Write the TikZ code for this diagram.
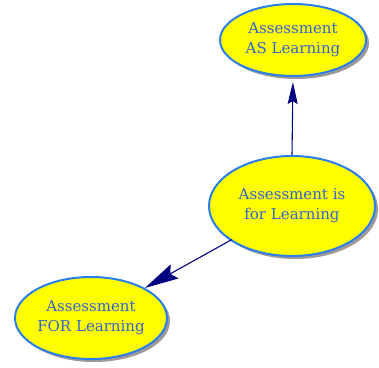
\documentclass[tikz,border=0pt]{standalone}
\usepackage{fontspec}
\setmainfont{DejaVu Serif}
\usetikzlibrary{shapes.geometric,arrows.meta,shadows}
\definecolor{nodeyellow}{HTML}{FFFF00}
\definecolor{nodeblue}{HTML}{2A7FEA}
\definecolor{textblue}{HTML}{3366CC}
\definecolor{navy}{HTML}{000080}
\definecolor{shadowgray}{HTML}{A09898}
\tikzset{
  concept/.style={ellipse, draw=nodeblue, line width=2pt, fill=nodeyellow,
    text=textblue, align=center, inner sep=0pt,
    font=\fontsize{15}{20}\selectfont,
    drop shadow={shadow xshift=3pt, shadow yshift=-3pt, fill=shadowgray, opacity=1}},
  link/.style={draw=navy, line width=1.1pt},
}
\begin{document}
\begin{tikzpicture}[x=1pt,y=-1pt]
\useasboundingbox (0,0) rectangle (379,367);
\node[concept, minimum width=146pt, minimum height=72pt] (as) at (293,40) {Assessment\\AS Learning};
\node[concept, minimum width=166pt, minimum height=100pt] (is) at (292,206) {Assessment is\\for Learning};
\node[concept, minimum width=152pt, minimum height=82pt] (for) at (91,318) {Assessment\\FOR Learning};
\draw[link, shorten >=5pt, -{Stealth[length=22pt,width=10pt,inset=3pt]}] (is.north) -- (as.south);
\draw[link, shorten <=-2pt, -{Stealth[length=34pt,width=16pt,inset=5pt]}] (is) -- (for);
\end{tikzpicture}
\end{document}
